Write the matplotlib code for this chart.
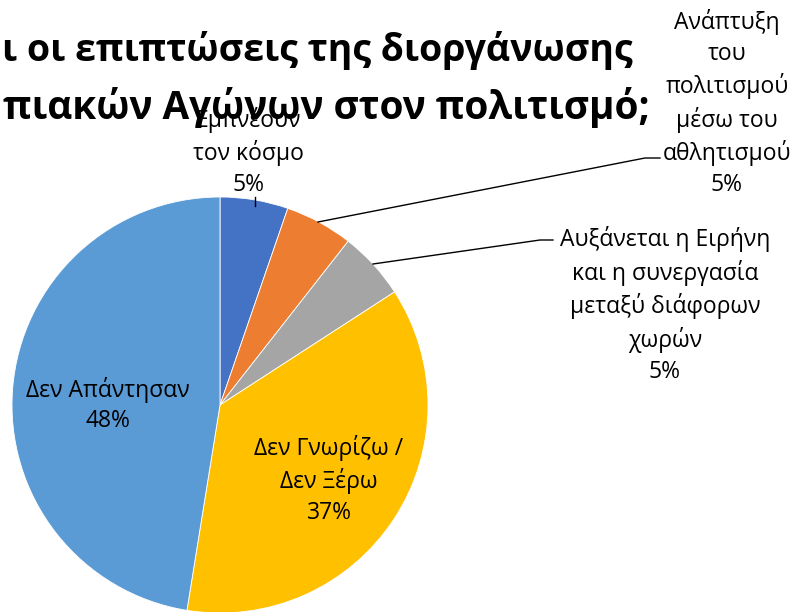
import matplotlib
matplotlib.use("Agg")
import matplotlib.pyplot as plt

# ---- data ----
categories = [
    "Εμπνέουν\nτον κόσμο",
    "Ανάπτυξη\nτου\nπολιτισμού\nμέσω του\nαθλητισμού",
    "Αυξάνεται η Ειρήνη\nκαι η συνεργασία\nμεταξύ διάφορων\nχωρών",
    "Δεν Γνωρίζω /\nΔεν Ξέρω",
    "Δεν Απάντησαν",
]
values = [5.3, 5.3, 5.3, 36.8, 47.6]
pct_labels = ["5%", "5%", "5%", "37%", "48%"]
colors = ["#4472C4", "#ED7D31", "#A5A5A5", "#FFC000", "#5B9BD5"]
# visible part of the (cropped) title
title_lines = ["ι οι επιπτώσεις της διοργάνωσης",
               "πιακών Αγώνων στον πολιτισμό;"]

W, H = 800, 612
fig = plt.figure(figsize=(8, 6.12), dpi=100)
fig.patch.set_facecolor("white")

cx, cy, R = 220, 405, 208  # pixel coords (from top)
ax = fig.add_axes([(cx - R) / W, (H - cy - R) / H, 2 * R / W, 2 * R / H])
ax.pie(values, colors=colors, startangle=90, counterclock=False, radius=1,
       wedgeprops=dict(edgecolor="white", linewidth=0.6))
ax.set_xlim(-1, 1)
ax.set_ylim(-1, 1)
ax.set_aspect("equal")
ax.axis("off")

def d(px, py):
    return ((px - cx) / R, (cy - py) / R)

fam = ["Open Sans", "DejaVu Sans"]
fs = 16.5
ls = 1.38
label_pos = [(248, 152), (727, 103), (665, 305), (329, 480), (108, 405)]
for cat, pct, (px, py) in zip(categories, pct_labels, label_pos):
    x, y = d(px, py)
    ax.text(x, y, cat + "\n" + pct, ha="center", va="center", fontsize=fs,
            family=fam, linespacing=ls, color="#000000", clip_on=False, zorder=5)

# leader lines
leaders = [
    [(255, 197), (255, 206)],
    [(318, 222), (645, 158), (660, 158)],
    [(373, 264), (540, 240), (553, 240)],
]
for pts in leaders:
    xs, ys = zip(*[d(*p) for p in pts])
    ax.plot(xs, ys, color="black", lw=1.0, clip_on=False, zorder=4)

# title (cropped on the left in the reference; only the visible part is drawn)
fig.text(2 / W, 1 - 51 / H, title_lines[0], ha="left", va="center",
         fontsize=27.0, fontweight="bold", family=fam, zorder=10)
fig.text(3 / W, 1 - 107 / H, title_lines[1], ha="left", va="center",
         fontsize=27.8, fontweight="bold", family=fam, zorder=10)

fig.savefig("out.png", dpi=100)
